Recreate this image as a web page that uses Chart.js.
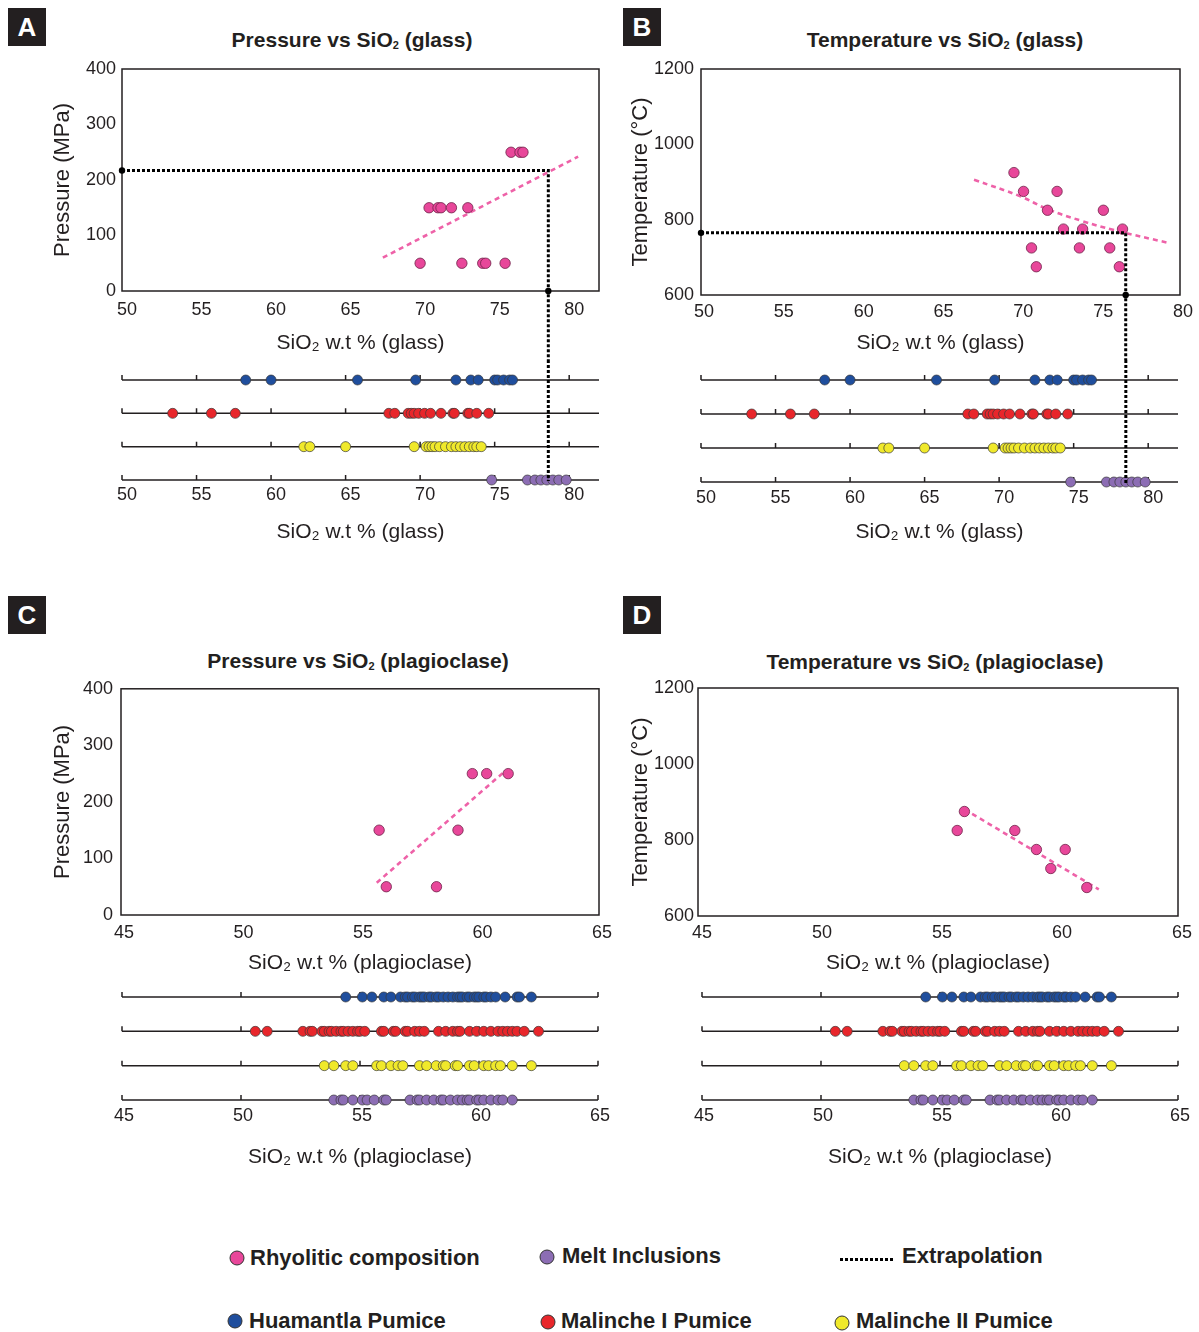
<!DOCTYPE html>
<html>
<head>
<meta charset="utf-8">
<script src="https://cdn.jsdelivr.net/npm/chart.js@4.4.0/dist/chart.umd.min.js"></script>
<style>
body{margin:0;background:#fff;width:1199px;height:1332px;position:relative;overflow:hidden;font-family:"Liberation Sans",Arial,sans-serif;color:#231f20}
canvas{position:absolute}
.tag{position:absolute;width:38px;height:38px;background:#231f20;color:#fff;font:bold 26px "Liberation Sans",Arial,sans-serif;text-align:center;line-height:38px}
.ttl{position:absolute;font:bold 21px "Liberation Sans",Arial,sans-serif;line-height:24px;transform:translateX(-50%);white-space:nowrap}
.ttl sub{font-size:11px;vertical-align:-2px}
.dot{position:absolute;width:13px;height:13px;border-radius:50%;border:1px solid #333;transform:translate(-50%,-50%)}
.lt{position:absolute;font:bold 22px "Liberation Sans",Arial,sans-serif;line-height:26px;white-space:nowrap}
.dash{position:absolute;height:3px;background:repeating-linear-gradient(90deg,#000 0 3px,transparent 3px 5px)}
</style>
</head>
<body>
<div class="tag" style="left:8px;top:8px">A</div>
<div class="tag" style="left:623px;top:8px">B</div>
<div class="tag" style="left:8px;top:596px">C</div>
<div class="tag" style="left:623px;top:596px">D</div>

<div class="ttl" style="left:352px;top:28px">Pressure vs SiO<sub>2</sub> (glass)</div>
<div class="ttl" style="left:945px;top:28px">Temperature vs SiO<sub>2</sub> (glass)</div>
<div class="ttl" style="left:358px;top:649px">Pressure vs SiO<sub>2</sub> (plagioclase)</div>
<div class="ttl" style="left:935px;top:650px">Temperature vs SiO<sub>2</sub> (plagioclase)</div>

<canvas id="mainA" width="630" height="310" style="left:0;top:50px"></canvas>
<canvas id="stripA" width="630" height="190" style="left:0;top:360px"></canvas>
<canvas id="mainC" width="630" height="310" style="left:0;top:670px"></canvas>
<canvas id="stripC" width="630" height="190" style="left:0;top:980px"></canvas>
<canvas id="mainB" width="630" height="310" style="left:580px;top:50px"></canvas>
<canvas id="stripB" width="630" height="190" style="left:580px;top:360px"></canvas>
<canvas id="mainD" width="630" height="310" style="left:580px;top:670px"></canvas>
<canvas id="stripD" width="630" height="190" style="left:580px;top:980px"></canvas>

<div class="dot" style="left:237px;top:1258px;background:#e8479a"></div>
<div class="lt" style="left:250px;top:1245px">Rhyolitic composition</div>
<div class="dot" style="left:547px;top:1257px;background:#8c6db4"></div>
<div class="lt" style="left:562px;top:1243px">Melt Inclusions</div>
<div class="dash" style="left:840px;top:1258px;width:55px"></div>
<div class="lt" style="left:902px;top:1243px">Extrapolation</div>
<div class="dot" style="left:235px;top:1321px;background:#1f4e9d"></div>
<div class="lt" style="left:249px;top:1308px">Huamantla Pumice</div>
<div class="dot" style="left:548px;top:1322px;background:#e8262b"></div>
<div class="lt" style="left:561px;top:1308px">Malinche I Pumice</div>
<div class="dot" style="left:842px;top:1323px;background:#f0e92b"></div>
<div class="lt" style="left:856px;top:1308px">Malinche II Pumice</div>

<script>
'use strict'

// axis ticks
const glassTicks = [50, 55, 60, 65, 70, 75, 80];
const plagTicks = [45, 50, 55, 60, 65];
const pressureTicks = [0, 100, 200, 300, 400];
const temperatureTicks = [600, 800, 1000, 1200];

// A: pressure vs SiO2 glass
const glassPSiO2 = [70.6, 71.2, 71.4, 72.1, 73.2, 76.1, 76.7, 76.9, 70.0, 72.8, 74.2, 74.4, 75.7];
const glassPressure = [150, 150, 150, 150, 150, 250, 250, 250, 50, 50, 50, 50, 50];
const glassPTrendX = [67.5, 80.6];
const glassPTrendY = [60, 242];
const glassPExtrap = [78.6, 217];

// B: temperature vs SiO2 glass
const glassTSiO2 = [69.6, 70.2, 72.3, 71.7, 75.2, 72.7, 73.9, 76.4, 70.7, 73.7, 75.6, 71.0, 76.2];
const glassTemp = [925, 875, 875, 825, 825, 775, 775, 775, 725, 725, 725, 675, 675];
const glassTTrendX = [67.1, 70.0, 71.7, 73.9, 75.8, 79.3];
const glassTTrendY = [906, 862, 828, 796, 773, 738];
const glassTExtrap = [76.6, 765];

// C: pressure vs SiO2 plagioclase
const plagPSiO2 = [55.8, 56.1, 58.2, 59.1, 59.7, 60.3, 61.2];
const plagPressure = [150, 50, 50, 150, 250, 250, 250];
const plagPTrendX = [55.7, 61.0];
const plagPTrendY = [57, 252];

// D: temperature vs SiO2 plagioclase
const plagTSiO2 = [55.8, 56.1, 58.2, 59.1, 60.3, 59.7, 61.2];
const plagTemp = [825, 875, 825, 775, 775, 725, 675];
const plagTTrendX = [56.1, 61.7];
const plagTTrendY = [881, 670];

// strip rows
const units = ['Huamantla Pumice', 'Malinche I Pumice', 'Malinche II Pumice', 'Melt Inclusions'];
const huamantlaGlass = [58.3, 60.0, 65.8, 69.7, 72.4, 73.4, 73.9, 75.0, 75.2, 75.6, 76.0, 76.2];
const malincheIGlass = [53.4, 56.0, 57.6, 67.9, 68.3, 69.2, 69.4, 69.6, 69.9, 70.3, 70.7, 71.4, 72.2, 72.3, 73.2, 73.3, 73.8, 74.6];
const malincheIIGlass = [62.2, 62.6, 65.0, 69.6, 70.4, 70.6, 70.8, 71.0, 71.3, 71.7, 72.1, 72.4, 72.7, 73.0, 73.3, 73.6, 73.8, 74.1];
const meltGlass = [74.8, 77.2, 77.7, 78.1, 78.5, 78.9, 79.3, 79.8];

const huamantlaPlag = [54.4, 55.1, 55.5, 56.0, 56.3, 56.7, 56.9, 57.0, 57.2, 57.3, 57.5, 57.6, 57.7, 57.9, 58.0, 58.2, 58.3, 58.5, 58.7, 58.9, 59.1, 59.2, 59.3, 59.5, 59.6, 59.8, 59.9, 60.0, 60.2, 60.3, 60.5, 60.7, 61.1, 61.6, 61.7, 62.2];
const malincheIPlag = [50.6, 51.1, 52.6, 52.9, 53.0, 53.4, 53.5, 53.7, 53.8, 54.0, 54.2, 54.3, 54.5, 54.7, 54.9, 55.0, 55.2, 55.9, 56.0, 56.4, 56.5, 56.9, 57.0, 57.3, 57.5, 57.7, 58.3, 58.6, 58.9, 59.1, 59.2, 59.6, 59.9, 60.2, 60.5, 60.8, 61.0, 61.2, 61.4, 61.6, 61.9, 62.5];
const malincheIIPlag = [53.5, 53.9, 54.4, 54.7, 55.7, 55.9, 56.3, 56.6, 56.8, 57.5, 57.8, 58.2, 58.5, 58.6, 59.0, 59.1, 59.6, 59.8, 60.2, 60.4, 60.7, 60.9, 61.4, 62.2];
const meltPlag = [53.9, 54.2, 54.3, 54.7, 55.1, 55.3, 55.6, 56.0, 56.1, 57.1, 57.4, 57.5, 57.8, 58.1, 58.4, 58.5, 58.8, 59.1, 59.3, 59.5, 59.6, 59.9, 60.0, 60.2, 60.5, 60.8, 61.0, 61.4];

const stripGlassExtrap = [78.6, 78.5];

const PINK = '#e8479a';
const PINK_LINE = '#ee62a8';
const unitColors = ['#1f4e9d', '#e8262b', '#f0e92b', '#8c6db4'];
const INK = '#231f20';

const pairs = (xs, ys) => xs.map((x, i) => ({x: x, y: ys[i]}));

const frame = {
  id: 'frame',
  beforeDatasetsDraw(c) {
    const a = c.chartArea, ctx = c.ctx;
    ctx.save();
    ctx.strokeStyle = INK;
    ctx.lineWidth = 1.5;
    ctx.strokeRect(a.left, a.top, a.right - a.left, a.bottom - a.top);
    ctx.restore();
  }
};

// dotted extrapolation guide
const extrap = {
  id: 'extrap',
  afterDatasetsDraw(c, args, o) {
    if (o.x == null) return;
    const xs = c.scales.x, ys = c.scales.y, ctx = c.ctx;
    const px = xs.getPixelForValue(o.x);
    ctx.save();
    ctx.strokeStyle = '#000';
    ctx.lineWidth = 3;
    ctx.setLineDash([3, 2]);
    ctx.beginPath();
    if (o.y != null) {
      const py = ys.getPixelForValue(o.y);
      ctx.moveTo(xs.getPixelForValue(xs.min), py);
      ctx.lineTo(px, py);
      ctx.lineTo(px, c.height);
    } else {
      ctx.moveTo(px, 0);
      ctx.lineTo(px, ys.getPixelForValue(units.length - 1) + 1);
    }
    ctx.stroke();
    if (o.y != null) {
      ctx.setLineDash([]);
      ctx.fillStyle = '#000';
      [[xs.min, o.y], [o.x, ys.min]].forEach(p => {
        ctx.beginPath();
        ctx.arc(xs.getPixelForValue(p[0]), ys.getPixelForValue(p[1]), 3.2, 0, Math.PI * 2);
        ctx.fill();
      });
    }
    ctx.restore();
  }
};

// horizontal rows of the strip charts
const rows = {
  id: 'rows',
  beforeDatasetsDraw(c, args, o) {
    const xs = c.scales.x, ys = c.scales.y, ctx = c.ctx;
    ctx.save();
    ctx.strokeStyle = INK;
    ctx.lineWidth = 1.5;
    units.forEach((u, i) => {
      const py = ys.getPixelForValue(i);
      ctx.beginPath();
      ctx.moveTo(xs.left, py);
      ctx.lineTo(xs.right, py);
      o.ticks.forEach(t => {
        const px = xs.getPixelForValue(t);
        ctx.moveTo(px, py);
        ctx.lineTo(px, py - 5);
      });
      ctx.stroke();
    });
    ctx.restore();
  }
};

const tickFont = {family: 'Liberation Sans', size: 18};
const titleFont = {family: 'Liberation Sans', size: 21};
const plain = v => String(v);

function xAxis(min, max, ticks, title, L) {
  return {
    type: 'linear', min: min, max: max,
    afterBuildTicks: s => { s.ticks = ticks.map(v => ({value: v})); },
    afterFit: s => { s.height = L.xh; },
    grid: {display: false, drawTicks: false},
    border: {display: false},
    ticks: {font: tickFont, color: INK, padding: L.tp, labelOffset: L.lo, maxRotation: 0, autoSkip: false, callback: plain},
    title: {display: true, text: title, font: titleFont, color: INK, padding: {top: 0, bottom: L.pb}}
  };
}

function buildMain(id, d, L) {
  return new Chart(document.getElementById(id), {
    type: 'scatter',
    data: {
      datasets: [
        {data: d.points, pointRadius: 5.2, pointBackgroundColor: PINK, pointBorderColor: '#6e2349', pointBorderWidth: 0.8, order: 1},
        {data: d.trend, showLine: true, pointRadius: 0, borderColor: PINK_LINE, borderWidth: 2.6, borderDash: [5, 4], tension: d.tension || 0, order: 2, clip: false}
      ]
    },
    options: {
      responsive: false, animation: false, events: [],
      layout: {padding: L.pad},
      plugins: {legend: {display: false}, tooltip: {enabled: false}, extrap: d.extrap || {}},
      scales: {
        x: xAxis(d.xMin, d.xMax, d.xTicks, d.xTitle, L),
        y: {
          type: 'linear', min: d.yMin, max: d.yMax,
          afterBuildTicks: s => { s.ticks = d.yTicks.map(v => ({value: v})); },
          afterFit: s => { s.width = L.yw; },
          grid: {display: false, drawTicks: false},
          border: {display: false},
          ticks: {font: tickFont, color: INK, padding: L.yp, callback: plain},
          title: {display: true, text: d.yTitle, font: {family: 'Liberation Sans', size: 22}, color: INK, padding: {top: L.pt, bottom: 0}}
        }
      }
    },
    plugins: [frame, extrap]
  });
}

function buildStrip(id, series, d, L) {
  return new Chart(document.getElementById(id), {
    type: 'scatter',
    data: {
      datasets: series.map((vals, i) => ({
        data: vals.map(v => ({x: v, y: units[i]})),
        pointRadius: 5, pointBackgroundColor: unitColors[i], pointBorderColor: '#3a3a3a', pointBorderWidth: 0.7, clip: false
      }))
    },
    options: {
      responsive: false, animation: false, events: [],
      layout: {padding: L.pad},
      plugins: {legend: {display: false}, tooltip: {enabled: false}, rows: {ticks: d.xTicks}, extrap: d.extrap || {}},
      scales: {
        x: xAxis(d.xMin, d.xMax, d.xTicks, d.xTitle, L),
        y: {type: 'category', labels: units, offset: false, display: false}
      }
    },
    plugins: [rows, extrap]
  });
}

const glassTitle = 'SiO₂ w.t % (glass)';
const plagTitle = 'SiO₂ w.t % (plagioclase)';

buildMain('mainA', {
  points: pairs(glassPSiO2, glassPressure), trend: pairs(glassPTrendX, glassPTrendY),
  xMin: 50, xMax: 82, xTicks: glassTicks, yMin: 0, yMax: 400, yTicks: pressureTicks,
  xTitle: glassTitle, yTitle: 'Pressure (MPa)', extrap: {x: glassPExtrap[0], y: glassPExtrap[1]}
}, {pad: {left: 0, top: 19, right: 31, bottom: 0}, yw: 122, xh: 69, tp: 8, lo: 5, pb: 4, pt: 50, yp: 6});

buildStrip('stripA', [huamantlaGlass, malincheIGlass, malincheIIGlass, meltGlass], {
  xMin: 50, xMax: 82, xTicks: glassTicks, xTitle: glassTitle, extrap: {x: stripGlassExtrap[0]}
}, {pad: {left: 122, top: 20, right: 31, bottom: 0}, xh: 70, tp: 4, lo: 5, pb: 5});

buildMain('mainB', {
  points: pairs(glassTSiO2, glassTemp), trend: pairs(glassTTrendX, glassTTrendY), tension: 0.4,
  xMin: 50, xMax: 80, xTicks: glassTicks, yMin: 600, yMax: 1200, yTicks: temperatureTicks,
  xTitle: glassTitle, yTitle: 'Temperature (°C)', extrap: {x: glassTExtrap[0], y: glassTExtrap[1]}
}, {pad: {left: 0, top: 19, right: 30, bottom: 0}, yw: 121, xh: 65, tp: 6, lo: 3, pb: 4, pt: 48, yp: 7});

buildStrip('stripB', [huamantlaGlass, malincheIGlass, malincheIIGlass, meltGlass], {
  xMin: 50, xMax: 82, xTicks: glassTicks, xTitle: glassTitle, extrap: {x: stripGlassExtrap[1]}
}, {pad: {left: 121, top: 20, right: 32, bottom: 0}, xh: 68, tp: 5, lo: 5, pb: 5});

buildMain('mainC', {
  points: pairs(plagPSiO2, plagPressure), trend: pairs(plagPTrendX, plagPTrendY),
  xMin: 45, xMax: 65, xTicks: plagTicks, yMin: 0, yMax: 400, yTicks: pressureTicks,
  xTitle: plagTitle, yTitle: 'Pressure (MPa)'
}, {pad: {left: 0, top: 18, right: 31, bottom: 0}, yw: 121, xh: 65, tp: 7, lo: 3, pb: 4, pt: 50, yp: 8});

buildStrip('stripC', [huamantlaPlag, malincheIPlag, malincheIIPlag, meltPlag], {
  xMin: 45, xMax: 65, xTicks: plagTicks, xTitle: plagTitle
}, {pad: {left: 122, top: 17, right: 32, bottom: 0}, xh: 70, tp: 5, lo: 2, pb: 0});

buildMain('mainD', {
  points: pairs(plagTSiO2, plagTemp), trend: pairs(plagTTrendX, plagTTrendY),
  xMin: 45, xMax: 65, xTicks: plagTicks, yMin: 600, yMax: 1200, yTicks: temperatureTicks,
  xTitle: plagTitle, yTitle: 'Temperature (°C)'
}, {pad: {left: 0, top: 18, right: 32, bottom: 0}, yw: 118, xh: 64, tp: 6, lo: 4, pb: 4, pt: 48, yp: 4});

buildStrip('stripD', [huamantlaPlag, malincheIPlag, malincheIIPlag, meltPlag], {
  xMin: 45, xMax: 65, xTicks: plagTicks, xTitle: plagTitle
}, {pad: {left: 122, top: 17, right: 32, bottom: 0}, xh: 70, tp: 5, lo: 2, pb: 0});
</script>
</body>
</html>
